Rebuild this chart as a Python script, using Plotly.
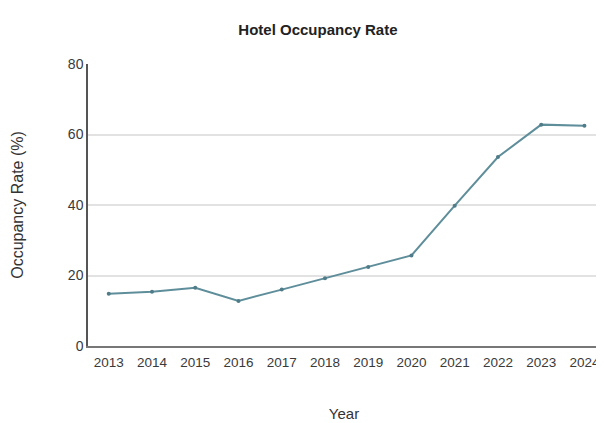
import plotly.graph_objects as go

years = [2013, 2014, 2015, 2016, 2017, 2018, 2019, 2020, 2021, 2022, 2023, 2024]
occupancy = [14.8, 15.4, 16.5, 12.8, 16.0, 19.2, 22.4, 25.7, 39.8, 53.6, 62.8, 62.5]

fig = go.Figure()
fig.add_trace(go.Scatter(
    x=years, y=occupancy, mode="lines+markers",
    line=dict(color="#5f8e9b", width=2),
    marker=dict(size=4, color="#4f7c88"),
    showlegend=False,
))

# page body has an 8px default margin, so the figure is sized to fit the window
fig.update_layout(
    width=596, height=415,
    margin=dict(l=80, r=4, t=56, b=77, autoexpand=False),
    paper_bgcolor="white", plot_bgcolor="white",
    font=dict(family="Liberation Sans, Arial, sans-serif", color="#333333", size=13),
    title=dict(text="<b>Hotel Occupancy Rate</b>", x=0.52, xanchor="center", y=0.947, yanchor="middle",
               font=dict(size=15, color="#222222")),
)
fig.update_xaxes(
    range=[2012.52, 2024.36], tickmode="array", tickvals=years,
    ticktext=[str(y) for y in years],
    showgrid=False, showline=True, linecolor="#777777", linewidth=1.5,
    ticks="", tickfont=dict(size=13.5, color="#3a3a3a"), automargin=False,
    ticklabelstandoff=3, ticklabeloverflow="allow",
    title=dict(text="Year", font=dict(size=15, color="#333333"), standoff=40),
    zeroline=False,
)
fig.update_yaxes(
    range=[0, 80], tickvals=[0, 20, 40, 60, 80],
    showgrid=True, gridcolor="#e2e2e2", gridwidth=1.5,
    showline=True, linecolor="#555555", linewidth=1.5,
    ticks="", tickfont=dict(size=14, color="#3a3a3a"), automargin=False,
    title=dict(text="Occupancy Rate (%)", font=dict(size=16, color="#333333"), standoff=40),
    zeroline=False,
)

fig.write_html("out.html")
